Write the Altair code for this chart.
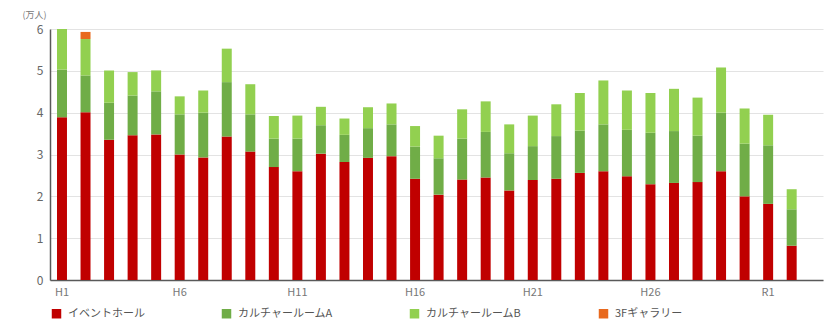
import altair as alt
import pandas as pd

years = ["H" + str(i) for i in range(1, 31)] + ["R1", "R2"]

event_hall = [3.89, 4.01, 3.35, 3.46, 3.48, 3.00, 2.93, 3.43, 3.07, 2.70,
              2.60, 3.02, 2.82, 2.92, 2.96, 2.42, 2.04, 2.40, 2.45, 2.14,
              2.39, 2.42, 2.56, 2.60, 2.48, 2.29, 2.32, 2.34, 2.60, 2.00,
              1.82, 0.82]
room_a = [1.14, 0.88, 0.89, 0.95, 1.03, 0.96, 1.07, 1.30, 0.89, 0.68,
          0.78, 0.68, 0.65, 0.71, 0.76, 0.77, 0.87, 0.98, 1.09, 0.89,
          0.81, 1.02, 1.01, 1.12, 1.11, 1.23, 1.24, 1.11, 1.40, 1.26,
          1.40, 0.87]
room_b = [0.97, 0.87, 0.77, 0.56, 0.50, 0.43, 0.53, 0.80, 0.72, 0.54,
          0.55, 0.44, 0.39, 0.50, 0.50, 0.49, 0.54, 0.70, 0.73, 0.69,
          0.73, 0.76, 0.90, 1.05, 0.94, 0.95, 1.01, 0.91, 1.08, 0.84,
          0.73, 0.48]
gallery = [0.00, 0.17] + [0.00] * 30

series_names = ["イベントホール", "カルチャールームA", "カルチャールームB", "3Fギャラリー"]
series_colors = ["#C00000", "#70AD47", "#92D050", "#E8691E"]
axis_years = ["H1", "H6", "H11", "H16", "H21", "H26", "R1"]

rows = []
for name, vals in zip(series_names, [event_hall, room_a, room_b, gallery]):
    for i, (y, v) in enumerate(zip(years, vals)):
        rows.append({"year": y, "series": name, "value": v,
                     "order": series_names.index(name)})
df = pd.DataFrame(rows)

font = "Noto Sans CJK JP"

chart = alt.Chart(df).mark_bar().encode(
    x=alt.X("year:N", sort=years,
            scale=alt.Scale(paddingInner=0.576, paddingOuter=0.708, align=0.21),
            axis=alt.Axis(title=None, values=axis_years, labelAngle=0,
                          ticks=False, domainColor="#595959", domainWidth=1.5,
                          labelColor="#777777", labelFontSize=11, labelPadding=6,
                          labelFont=font)),
    y=alt.Y("value:Q", stack="zero",
            scale=alt.Scale(domain=[0, 6], nice=False),
            axis=alt.Axis(title="(万人)", titleAngle=0, titleX=-16, titleY=-15,
                          titleAlign="center", titleBaseline="middle",
                          titleFontSize=9, titleFontWeight="normal",
                          titleColor="#777777", titleFont=font,
                          values=[0, 1, 2, 3, 4, 5, 6], ticks=False,
                          domainColor="#595959", domainWidth=1.5,
                          gridColor="#E3E3E3", labelColor="#666666",
                          labelFontSize=12, labelPadding=7, labelFont=font)),
    color=alt.Color("series:N", sort=series_names,
                    scale=alt.Scale(domain=series_names, range=series_colors),
                    legend=alt.Legend(title=None, orient="none", direction="horizontal",
                                      legendX=1, legendY=279, symbolType="square",
                                      symbolSize=90, symbolStrokeWidth=0,
                                      labelFontSize=11, labelFont=font,
                                      labelColor="#555555", labelOffset=6,
                                      columnPadding=76, columns=4)),
    order=alt.Order("order:Q", sort="ascending"),
).properties(
    width=773, height=251,
    autosize=alt.AutoSizeParams(type="none"),
    padding={"left": 50, "top": 29, "right": 2, "bottom": 47},
).configure_view(stroke=None)

chart.save("out.html", embed_options={"renderer": "svg", "actions": False})
